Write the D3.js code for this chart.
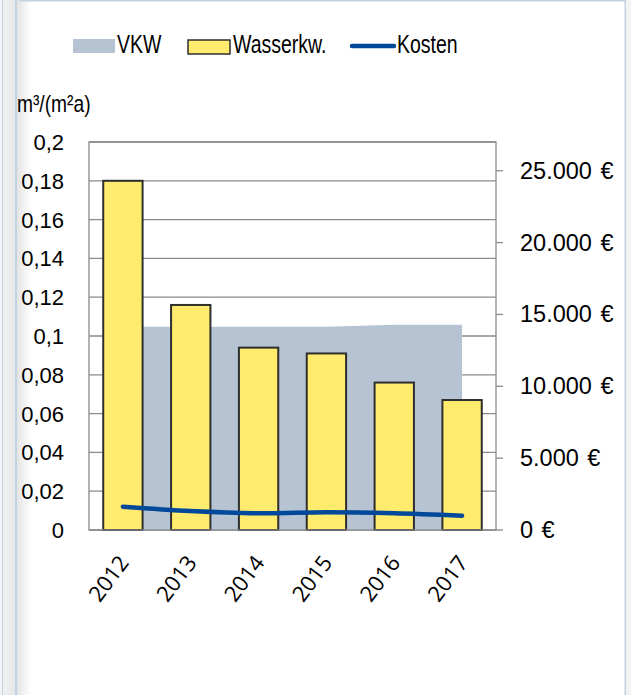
<!DOCTYPE html>
<html>
<head>
<meta charset="utf-8">
<script src="https://cdn.jsdelivr.net/npm/d3@7"></script>
<style>
  html, body { margin: 0; padding: 0; background: #ffffff; }
  svg { display: block; }
  text { font-family: "Liberation Sans", Arial, sans-serif; fill: #000; }
</style>
</head>
<body>
<script>
// Water consumption per m² and annual water costs, 2012–2017
const years = ["2012", "2013", "2014", "2015", "2016", "2017"];
const wasserkw = [0.180, 0.116, 0.094, 0.091, 0.076, 0.067];    // m³/(m²a)
const vkw = [0.1048, 0.1048, 0.1048, 0.1048, 0.1058, 0.1058];    // m³/(m²a)
const kosten = [1620, 1320, 1160, 1230, 1160, 990];              // €
const leftTicks = [0, 0.02, 0.04, 0.06, 0.08, 0.1, 0.12, 0.14, 0.16, 0.18, 0.2];
const rightTicks = [0, 5000, 10000, 15000, 20000, 25000];
const legendItems = ["VKW", "Wasserkw.", "Kosten"];

const W = 631, H = 695;
const plot = { left: 89, right: 496, top: 142, bottom: 530 };

const de = d3.formatLocale({ decimal: ",", thousands: ".", grouping: [3], currency: ["", " €"] });
const fmtLeft = de.format(".2~f");
const fmtRight = de.format(",.0f");

const svg = d3.select("body").append("svg").attr("width", W).attr("height", H);

// window frame
const defs = svg.append("defs");
const g1 = defs.append("linearGradient").attr("id", "shadeL").attr("x1", 0).attr("x2", 1);
g1.append("stop").attr("offset", 0).attr("stop-color", "#e4e4e4");
g1.append("stop").attr("offset", 1).attr("stop-color", "#ffffff");
const g0 = defs.append("linearGradient").attr("id", "shade0").attr("x1", 0).attr("x2", 1);
g0.append("stop").attr("offset", 0).attr("stop-color", "#f2f2f2");
g0.append("stop").attr("offset", 1).attr("stop-color", "#e6e6e6");
svg.append("rect").attr("x", 0).attr("y", 0).attr("width", 2).attr("height", H).attr("fill", "#f4f4f4");
svg.append("rect").attr("x", 2).attr("y", 0).attr("width", 1.5).attr("height", H).attr("fill", "#c3d2e0");
svg.append("rect").attr("x", 3.5).attr("y", 0).attr("width", 11.5).attr("height", H).attr("fill", "url(#shade0)");
svg.append("rect").attr("x", 15).attr("y", 0).attr("width", 2).attr("height", H).attr("fill", "#c3d2e0");
svg.append("rect").attr("x", 17).attr("y", 0).attr("width", 14).attr("height", H).attr("fill", "url(#shadeL)");
svg.append("rect").attr("x", 19).attr("y", 0).attr("width", 607).attr("height", 1.5).attr("fill", "#c3d2e0");
svg.append("rect").attr("x", 624.5).attr("y", 0).attr("width", 1.8).attr("height", H).attr("fill", "#c3d2e0");
svg.append("rect").attr("x", 626.3).attr("y", 0).attr("width", 5).attr("height", H).attr("fill", "#f3f3f3");

// scales
const x = d3.scaleBand().domain(years).range([plot.left, plot.right]).paddingInner(0.42).paddingOuter(0.21);
const y = d3.scaleLinear().domain([0, 0.2]).range([plot.bottom, plot.top]);
const y2 = d3.scaleLinear().domain([0, 27000]).range([plot.bottom, plot.top]);
const cx = d => x(d) + x.bandwidth() / 2;

const gridColor = "#8a8a8a";

// horizontal gridlines
svg.append("g").selectAll("line").data(leftTicks).join("line")
  .attr("x1", plot.left).attr("x2", plot.right)
  .attr("y1", d => y(d)).attr("y2", d => y(d))
  .attr("stroke", gridColor).attr("stroke-width", 1.3);

// VKW reference area
const area = d3.area().x((d, i) => cx(years[i])).y0(y(0)).y1(d => y(d));
svg.append("path").datum(vkw).attr("d", area).attr("fill", "#b5c3d3");

// Wasserkw. bars
svg.append("g").selectAll("rect").data(wasserkw).join("rect")
  .attr("x", (d, i) => x(years[i]))
  .attr("y", d => y(d))
  .attr("width", x.bandwidth())
  .attr("height", d => y(0) - y(d))
  .attr("fill", "#ffec6e")
  .attr("stroke", "#2e2e2e")
  .attr("stroke-width", 2);

// plot border
svg.append("rect")
  .attr("x", plot.left).attr("y", plot.top)
  .attr("width", plot.right - plot.left).attr("height", plot.bottom - plot.top)
  .attr("fill", "none").attr("stroke", gridColor).attr("stroke-width", 1.3);

// Kosten line
const line = d3.line().x((d, i) => cx(years[i])).y(d => y2(d)).curve(d3.curveCatmullRom);
svg.append("path").datum(kosten).attr("d", line)
  .attr("fill", "none").attr("stroke", "#00489a").attr("stroke-width", 4.5)
  .attr("stroke-linecap", "round");

// left axis labels
svg.append("g").selectAll("text").data(leftTicks).join("text")
  .attr("x", 64).attr("y", d => y(d) + 8)
  .attr("text-anchor", "end").attr("font-size", 22)
  .text(d => fmtLeft(d));

// right axis ticks and labels
svg.append("g").selectAll("line").data(rightTicks).join("line")
  .attr("x1", plot.right).attr("x2", plot.right + 7)
  .attr("y1", d => y2(d)).attr("y2", d => y2(d))
  .attr("stroke", gridColor).attr("stroke-width", 1.3);
svg.append("g").selectAll("text").data(rightTicks).join("text")
  .attr("x", 520).attr("y", d => y2(d) + 8)
  .attr("font-size", 23.5).attr("word-spacing", 2)
  .text(d => fmtRight(d) + " €");

// year labels
svg.append("g").selectAll("text").data(years).join("text")
  .attr("transform", d => `translate(${cx(d) + 7},563) rotate(-53)`)
  .attr("text-anchor", "end")
  .style("font-family", "'Open Sans', sans-serif")
  .attr("font-size", 22)
  .text(d => d);

// axis unit title
svg.append("text")
  .attr("transform", "translate(17,112) scale(0.8,1)")
  .attr("font-size", 24)
  .text("m³/(m²a)");

// legend
const leg = svg.append("g");
leg.append("rect").attr("x", 73).attr("y", 39).attr("width", 42).attr("height", 14).attr("fill", "#b5c3d3");
leg.append("rect").attr("x", 188).attr("y", 40).attr("width", 42).attr("height", 14)
  .attr("fill", "#ffec6e").attr("stroke", "#2e2e2e").attr("stroke-width", 1.5);
leg.append("line").attr("x1", 352).attr("x2", 394).attr("y1", 46).attr("y2", 46)
  .attr("stroke", "#00489a").attr("stroke-width", 4.5).attr("stroke-linecap", "round");
const legX = [117, 233, 397];
leg.selectAll("text").data(legendItems).join("text")
  .attr("transform", (d, i) => `translate(${legX[i]},53) scale(0.78,1)`)
  .attr("font-size", 25)
  .text(d => d);
</script>
</body>
</html>
